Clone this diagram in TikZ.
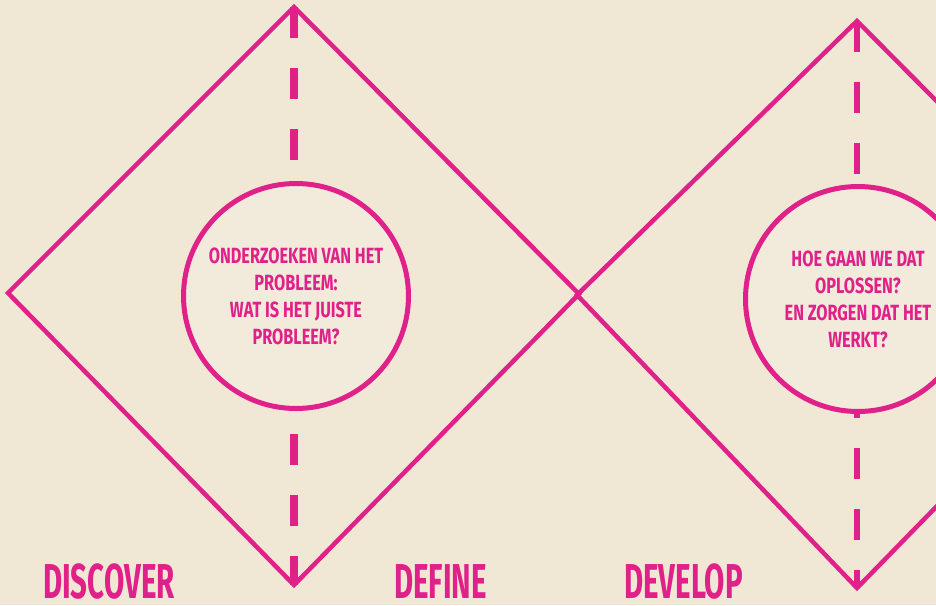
\documentclass[tikz,border=0pt]{standalone}
\usepackage{fontspec}
\usepackage{xcolor}
\usepackage{tikz}
\newfontfamily\condfont[FakeStretch=0.74]{Fira Sans}
\newfontfamily\phasefont[FakeStretch=0.6]{Fira Sans}
\definecolor{ddpink}{HTML}{E0218A}
\definecolor{ddbg}{HTML}{F0E8D5}
\definecolor{ddbubble}{HTML}{F2EADA}

\begin{document}
\begin{tikzpicture}[x=1pt,y=-1pt,
  edge/.style={draw=ddpink, line width=4.5pt, line join=miter},
  axis/.style={draw=ddpink, dash pattern=on 31pt off 30pt},
  bubble/.style={circle, draw=ddpink, line width=5pt, fill=ddbubble, minimum size=225pt, inner sep=0pt,
    align=center, text=ddpink, font=\condfont\bfseries\fontsize{22}{27}\selectfont},
  phase/.style={text=ddpink, anchor=base west, inner sep=0pt, font=\phasefont\bfseries\fontsize{49}{49}\selectfont}]
% background and frame
\fill[ddbg] (0,0) rectangle (936,605);
\useasboundingbox (0,0) rectangle (936,605);
\clip (0,0) rectangle (936,605);

% corners of the two diamonds
\coordinate (dscL) at (8,293);
\coordinate (dscT) at (294,7);
\coordinate (dscR) at (579,294);
\coordinate (dscB) at (294,585);
\coordinate (devL) at (577,295);
\coordinate (devT) at (857,21);
\coordinate (devR) at (1136,302);
\coordinate (devB) at (857,588);

\draw[edge] (dscL) -- (dscT) -- (dscR) -- (dscB) -- cycle;
\draw[edge] (devL) -- (devT) -- (devR) -- (devB) -- cycle;

% dashed middle lines
\draw[axis, line width=8pt] (dscT) -- (dscB);
\draw[axis, line width=5.5pt] (devT) -- (devB);

% circles with questions
\node[bubble] (probleem) at (296,296) {ONDERZOEKEN VAN HET\\PROBLEEM:\\WAT IS HET JUISTE\\PROBLEEM?};
\node[bubble] (oplossen) at (858,299) {HOE GAAN WE DAT\\OPLOSSEN?\\EN ZORGEN DAT HET\\WERKT?};

% phase names
\node[phase] (discover) at (43,598) {DISCOVER};
\node[phase] (define) at (394,598) {DEFINE};
\node[phase] (develop) at (624,598) {DEVELOP};
\end{tikzpicture}
\end{document}
